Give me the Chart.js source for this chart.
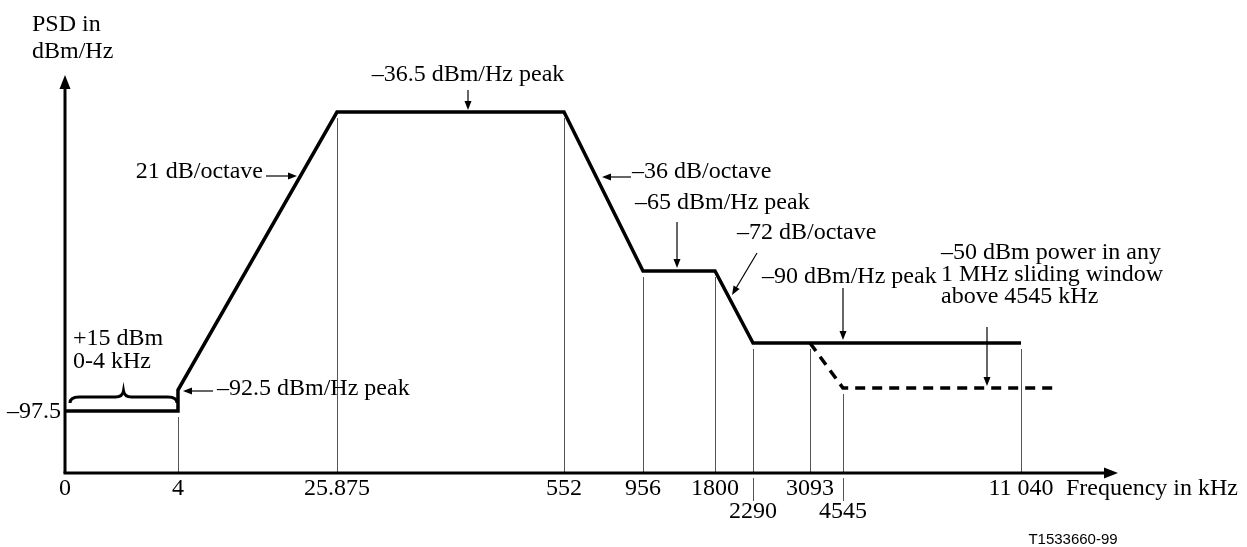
<!DOCTYPE html>
<html><head><meta charset="utf-8">
<script src="https://cdn.jsdelivr.net/npm/chart.js@4/dist/chart.umd.min.js"></script>
<style>html,body{margin:0;padding:0;background:#fff;}canvas{display:block;}</style>
</head><body>
<canvas id="c" width="1247" height="547"></canvas>
<script>
// ---- data ----
const freqTickValues = [0, 4, 25.875, 552, 956, 1800, 2290, 3093, 4545, 11040];
const freqTickLabels = ['0', '4', '25.875', '552', '956', '1800', '2290', '3093', '4545', '11 040'];
const staggeredTickLabels = ['2290', '4545'];
const psdTickValues = [-97.5];
const psdTickLabels = ['\u201397.5'];
const maskFreq = [0, 4, 4, 25.875, 552, 956, 1800, 2290, 11040];
const maskPsd = [-97.5, -97.5, -92.5, -36.5, -36.5, -65, -65, -90, -90];
const windowFreq = [3093, 4545, 12100];          // kHz
const windowPowerDbm = [-30, -50, -50];           // dBm in any 1 MHz window (-30 dBm/MHz == -90 dBm/Hz)

// ---- schematic (not-to-scale) axis geometry: value -> fraction of axis length ----
const scaleAnchors = {
  x: [[0, 0], [4, 0.1073], [25.875, 0.2583], [552, 0.4739], [956, 0.5489], [1800, 0.6173],
      [2290, 0.6534], [3093, 0.7075], [4545, 0.7388], [11040, 0.9079], [14000, 1]],
  y: [[-105, 0], [-97.5, 0.1558], [-92.5, 0.2085], [-90, 0.3266], [-65, 0.5075], [-36.5, 0.907], [-30, 1]],
  yPow: [[-50, 0.2136], [-30, 0.3266]]
};

class SchematicScale extends Chart.LinearScale {
  _frac(v) {
    const a = scaleAnchors[this.id];
    let i = 1;
    while (i < a.length - 1 && v > a[i][0]) i++;
    const [v0, f0] = a[i - 1], [v1, f1] = a[i];
    return f0 + (v - v0) * (f1 - f0) / (v1 - v0);
  }
  getPixelForValue(v) { return this.getPixelForDecimal(this._frac(v)); }
  getValueForPixel(p) {
    const d = this.getDecimalForPixel(p);
    const a = scaleAnchors[this.id];
    let i = 1;
    while (i < a.length - 1 && d > a[i][1]) i++;
    const [v0, f0] = a[i - 1], [v1, f1] = a[i];
    return v0 + (d - f0) * (v1 - v0) / (f1 - f0);
  }
}
SchematicScale.id = 'schematic';
SchematicScale.defaults = Chart.LinearScale.defaults;
Chart.register(SchematicScale);

const SERIF = '"Liberation Serif", "Times New Roman", serif';
const FONT = '24px ' + SERIF;

function arrow(ctx, x1, y1, x2, y2, len, hw) {
  len = len || 9; hw = hw || 3.5;
  const a = Math.atan2(y2 - y1, x2 - x1);
  ctx.beginPath(); ctx.moveTo(x1, y1);
  ctx.lineTo(x2 - Math.cos(a) * len * 0.8, y2 - Math.sin(a) * len * 0.8); ctx.stroke();
  ctx.beginPath();
  ctx.moveTo(x2, y2);
  ctx.lineTo(x2 - Math.cos(a) * len - Math.sin(a) * hw, y2 - Math.sin(a) * len + Math.cos(a) * hw);
  ctx.lineTo(x2 - Math.cos(a) * len + Math.sin(a) * hw, y2 - Math.sin(a) * len - Math.cos(a) * hw);
  ctx.closePath(); ctx.fill();
}

// lowest pixel of the series that has a breakpoint at this frequency
function guideTop(chart, f) {
  let best = null;
  [[maskFreq, 0], [windowFreq, 1]].forEach(([freqs, di]) => {
    const pts = chart.getDatasetMeta(di).data;
    freqs.forEach((ff, k) => {
      if (ff === f) best = best === null ? pts[k].y : Math.max(best, pts[k].y);
    });
  });
  return best;
}

const schematicPlugin = {
  id: 'schematic',
  beforeDatasetsDraw(chart) {
    const ctx = chart.ctx, xs = chart.scales.x, area = chart.chartArea;
    ctx.save();
    ctx.strokeStyle = '#555'; ctx.lineWidth = 1;
    freqTickValues.forEach((f, i) => {
      if (i === 0) return;
      const px = Math.round(xs.getPixelForValue(f)) + 0.5;
      const top = guideTop(chart, f);
      ctx.beginPath(); ctx.moveTo(px, area.bottom); ctx.lineTo(px, top + 6); ctx.stroke();
      if (staggeredTickLabels.includes(freqTickLabels[i])) {
        ctx.beginPath(); ctx.moveTo(px, area.bottom + 5); ctx.lineTo(px, area.bottom + 28); ctx.stroke();
      }
    });
    ctx.restore();
  },
  afterDatasetsDraw(chart) {
    const ctx = chart.ctx, xs = chart.scales.x, ys = chart.scales.y, area = chart.chartArea;
    ctx.save();
    // axes
    ctx.strokeStyle = '#000'; ctx.fillStyle = '#000'; ctx.lineWidth = 3;
    ctx.beginPath(); ctx.moveTo(area.left, area.bottom); ctx.lineTo(area.left, area.top + 10); ctx.stroke();
    ctx.beginPath(); ctx.moveTo(area.left - 1.5, area.bottom); ctx.lineTo(area.right - 10, area.bottom); ctx.stroke();
    ctx.beginPath(); ctx.moveTo(area.left, area.top); ctx.lineTo(area.left - 5.5, area.top + 14); ctx.lineTo(area.left + 5.5, area.top + 14); ctx.closePath(); ctx.fill();
    ctx.beginPath(); ctx.moveTo(area.right, area.bottom); ctx.lineTo(area.right - 14, area.bottom - 5.5); ctx.lineTo(area.right - 14, area.bottom + 5.5); ctx.closePath(); ctx.fill();

    // tick labels
    ctx.font = FONT; ctx.textBaseline = 'middle'; ctx.textAlign = 'center';
    freqTickValues.forEach((f, i) => {
      const lab = freqTickLabels[i];
      const y = staggeredTickLabels.includes(lab) ? area.bottom + 39 : area.bottom + 16;
      ctx.fillText(lab, xs.getPixelForValue(f), y);
    });
    ctx.textAlign = 'right';
    psdTickValues.forEach((v, i) => ctx.fillText(psdTickLabels[i], area.left - 4, ys.getPixelForValue(v) + 1));
    ctx.textAlign = 'left';
    ctx.fillText('Frequency in kHz', 1066, area.bottom + 16);
    ctx.fillText('PSD in', 32, 25);
    ctx.fillText('dBm/Hz', 32, 52);

    // annotations
    ctx.lineWidth = 1.2;
    ctx.textAlign = 'center';
    ctx.fillText('\u201336.5 dBm/Hz peak', 468, 75);
    arrow(ctx, 468, 90, 468, ys.getPixelForValue(-36.5) - 2);
    ctx.textAlign = 'right';
    ctx.fillText('21 dB/octave', 263, 172);
    arrow(ctx, 266, 176, 297, 176);
    ctx.textAlign = 'left';
    ctx.fillText('\u201336 dB/octave', 632, 172);
    arrow(ctx, 631, 177, 602, 177);
    ctx.fillText('\u201365 dBm/Hz peak', 635, 203);
    arrow(ctx, 677, 222, 677, ys.getPixelForValue(-65) - 3);
    ctx.fillText('\u201372 dB/octave', 737, 233);
    arrow(ctx, 757, 253, 732, 295);
    ctx.fillText('\u201390 dBm/Hz peak', 762, 277);
    arrow(ctx, 843, 288, 843, ys.getPixelForValue(-90) - 3);
    ctx.fillText('\u201350 dBm power in any', 941, 253);
    ctx.fillText('1 MHz sliding window', 941, 275);
    ctx.fillText('above 4545 kHz', 941, 297);
    arrow(ctx, 987, 327, 987, chart.scales.yPow.getPixelForValue(-50) - 2);
    ctx.fillText('+15 dBm', 73, 339);
    ctx.fillText('0-4 kHz', 73, 362);
    ctx.fillText('\u201392.5 dBm/Hz peak', 217, 389);
    arrow(ctx, 213, 391, 183, 391);

    // brace over 0-4 kHz
    const bx0 = xs.getPixelForValue(0) + 5, bx1 = xs.getPixelForValue(4) - 1, bxm = (bx0 + bx1) / 2;
    const by = ys.getPixelForValue(-97.5) - 14;
    ctx.lineWidth = 3;
    ctx.beginPath();
    ctx.moveTo(bx0, by + 6);
    ctx.quadraticCurveTo(bx0, by, bx0 + 9, by);
    ctx.lineTo(bxm - 8, by);
    ctx.quadraticCurveTo(bxm - 1, by, bxm, by - 6);
    ctx.quadraticCurveTo(bxm + 1, by, bxm + 8, by);
    ctx.lineTo(bx1 - 9, by);
    ctx.quadraticCurveTo(bx1, by, bx1, by + 6);
    ctx.stroke();

    ctx.font = '15px "Liberation Sans", Arial, sans-serif';
    ctx.textAlign = 'center';
    ctx.fillText('T1533660-99', 1073, 540);
    ctx.restore();
  }
};

new Chart(document.getElementById('c'), {
  type: 'line',
  data: {
    datasets: [
      { label: 'PSD mask', data: maskFreq.map((f, i) => ({ x: f, y: maskPsd[i] })),
        borderColor: '#000', borderWidth: 3.5, pointRadius: 0, tension: 0, fill: false,
        borderJoinStyle: 'miter', clip: false, yAxisID: 'y' },
      { label: 'Power in 1 MHz window', data: windowFreq.map((f, i) => ({ x: f, y: windowPowerDbm[i] })),
        borderColor: '#000', borderWidth: 3.5, borderDash: [10, 7], pointRadius: 0, tension: 0, fill: false,
        clip: false, yAxisID: 'yPow' }
    ]
  },
  options: {
    responsive: false, animation: false, devicePixelRatio: 1,
    layout: { padding: { left: 65, right: 129, top: 75, bottom: 74 } },
    plugins: { legend: { display: false }, tooltip: { enabled: false }, title: { display: false } },
    scales: {
      x: { type: 'schematic', display: false, min: 0, max: 14000 },
      y: { type: 'schematic', display: false, min: -105, max: -30 },
      yPow: { type: 'schematic', display: false, min: -70, max: 0 }
    }
  },
  plugins: [schematicPlugin]
});
</script>
</body></html>
